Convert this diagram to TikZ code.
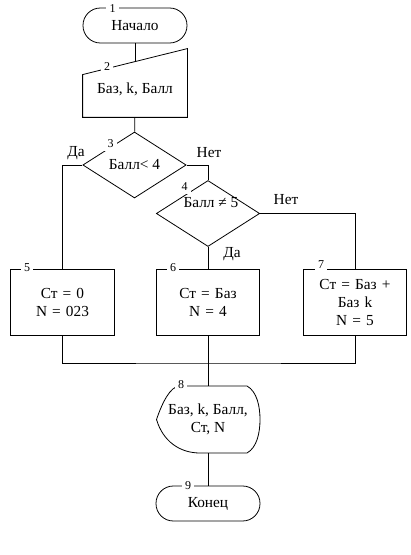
\documentclass[tikz,border=0pt]{standalone}
\usepackage{fontspec}
\setmainfont{Liberation Serif}
\usepackage{tikz}
\usetikzlibrary{shapes,positioning,calc}

\begin{document}
\begin{tikzpicture}[
    x=0.75pt, y=-0.75pt,
    line width=0.6pt,
    font=\fontsize{11.5}{13.5}\selectfont,
    term/.style={rectangle, draw, rounded corners=13pt, minimum width=78pt, minimum height=26.25pt},
    io/.style={rectangle, minimum width=78pt, minimum height=41.25pt},
    cond/.style={diamond, draw, aspect=1.56, inner sep=0pt, minimum width=77.5pt, minimum height=49.5pt},
    proc/.style={rectangle, draw, text width=70pt, align=center, minimum width=77.5pt, minimum height=49.5pt},
    disp/.style={rectangle, align=center, minimum width=77.5pt, minimum height=50.25pt},
    num/.style={fill=white, inner sep=2.6pt, font=\fontsize{9}{10}\selectfont}
]
\useasboundingbox (0,0) rectangle (410,555);

\node[term] (start) at (135,25.5) {Начало};
\node[io] (input) at (135,89.5) {Баз, k, Балл};
\draw ($(input.north west)+(0,13)$) -- ($(input.north east)+(0,-13)$) -- (input.south east) -- (input.south west) -- cycle;

\node[cond] (check1) at (134.5,165) {Балл< 4};
\node[cond, label={[xshift=2.25pt, yshift=7.9pt]center:Балл ≠ 5}] (check2) at (208,213.5) {};

\node[proc] (grade0) at (62.5,302) {Ст = 0\\N = 023};
\node[proc] (grade4) at (208,302) {Ст = Баз\\N = 4};
\node[proc] (grade5) at (355,302) {Ст = Баз +\\Баз k\\N = 5};

\node[disp] (output) at (208,419.5) {Баз, k, Балл,\\Ст, N};
\begin{scope}[shift={(output.center)}]
\draw (-28,-33.5) -- (39,-33.5) .. controls (49,-28) and (52,-13) .. (52,0)
    .. controls (52,13) and (49,28) .. (39,33.5) -- (-8,33.5)
    .. controls (-28,33.5) and (-45,22) .. (-51.5,0)
    .. controls (-46,-16) and (-38,-33.5) .. (-28,-33.5) -- cycle;
\end{scope}

\node[term] (stop) at (208,503.5) {Конец};

\coordinate (merge) at (208,363);

\draw (start) -- (input);
\draw (input) -- (check1);
\draw (check1.west) -| (grade0.north);
\draw (check1.east) -| (check2.north);
\draw (check2.east) -| (grade5.north);
\draw (check2.south) -- (grade4.north);
\draw (grade0.south) |- (merge) -| (grade5.south);
\draw (grade4.south) -- (output.north);
\draw (output) -- (stop);

\node (yes1) at (76,153) {Да};
\node (no1) at (209,153) {Нет};
\node (no2) at (286,200) {Нет};
\node (yes2) at (232,254) {Да};

\node[num] (n1) at (112.5,8.5) {1};
\node[num] (n2) at (107,67) {2};
\node[num] (n3) at (110.5,143.5) {3};
\node[num] (n4) at (184.5,186.5) {4};
\node[num] (n5) at (27,268) {5};
\node[num] (n6) at (173,268) {6};
\node[num] (n7) at (321,265) {7};
\node[num] (n8) at (181,385) {8};
\node[num] (n9) at (188,486) {9};

\end{tikzpicture}
\end{document}
